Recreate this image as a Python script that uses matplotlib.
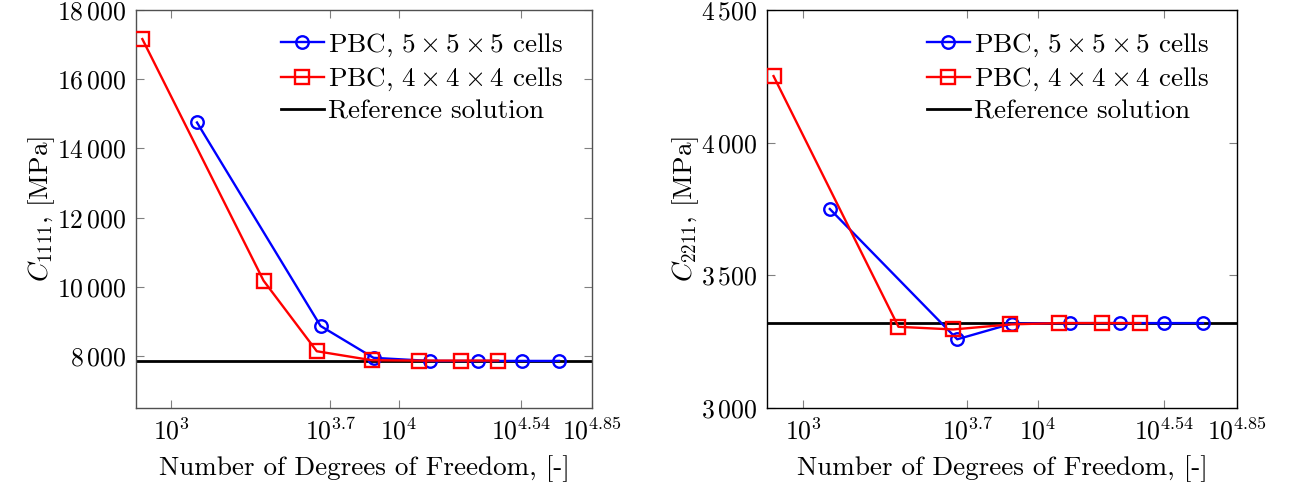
import matplotlib
matplotlib.use("Agg")
import matplotlib.pyplot as plt
import numpy as np

plt.rcParams['font.family'] = 'serif'
plt.rcParams['font.serif'] = ['cmr10']
plt.rcParams['mathtext.fontset'] = 'cm'
plt.rcParams['axes.formatter.use_mathtext'] = True

# degrees of freedom for the two cell configurations
dof_5 = [1300, 4540, 7760, 13740, 22400, 34700, 50700]
dof_4 = [748, 2550, 4370, 7640, 12300, 18750, 27400]

# C_1111 [MPa]
c1111_5 = [14750, 8870, 7950, 7860, 7860, 7860, 7860]
c1111_4 = [17160, 10180, 8140, 7880, 7870, 7870, 7870]
c1111_ref = 7870

# C_2211 [MPa]
c2211_5 = [3750, 3259, 3318, 3320, 3320, 3320, 3320]
c2211_4 = [4251, 3306, 3296, 3315, 3320, 3320, 3320]
c2211_ref = 3320

xtick_exp = [3, 3.7, 4, 4.54, 4.85]
xtick_labels = [r'$10^{3}$', r'$10^{3.7}$', r'$10^{4}$', r'$10^{4.54}$', r'$10^{4.85}$']

fs_tick = 18.5
fs_lab = 19.5

fig = plt.figure(figsize=(12.95, 4.93), dpi=100)
ax1 = fig.add_axes([136 / 1295, 85 / 493, 456 / 1295, 398 / 493])
ax2 = fig.add_axes([767 / 1295, 85 / 493, 470 / 1295, 398 / 493])


def draw(ax, y5, y4, yref, ylim, yticks, ylabel, spine_col, leg_x):
    ax.plot(dof_5, y5, color='blue', lw=1.7, marker='o', ms=9, mfc='none',
            mew=1.7, label=r'PBC, $5\times5\times5$ cells', zorder=3)
    ax.plot(dof_4, y4, color='red', lw=1.7, marker='s', ms=9.5, mfc='none',
            mew=1.7, label=r'PBC, $4\times4\times4$ cells', zorder=3)
    ax.axhline(yref, color='black', lw=2.0, label='Reference solution', zorder=2)
    ax.set_xscale('log')
    ax.set_xlim(10 ** 2.846, 10 ** 4.85)
    ax.set_ylim(*ylim)
    ax.set_xticks([10 ** e for e in xtick_exp])
    ax.set_xticklabels(xtick_labels, fontsize=fs_tick)
    ax.xaxis.set_minor_locator(matplotlib.ticker.NullLocator())
    ax.set_yticks(yticks)
    ax.set_yticklabels([r'$%d\,%03d$' % (t // 1000, t % 1000) for t in yticks], fontsize=fs_tick)
    ax.tick_params(direction='in', length=6, width=0.8, color='#808080',
                   top=True, right=True, pad=7)
    for s in ax.spines.values():
        s.set_linewidth(1.0)
        s.set_color(spine_col)
    ax.set_xlabel('Number of Degrees of Freedom, [-]', fontsize=fs_lab, labelpad=8)
    ax.set_ylabel(ylabel, fontsize=fs_lab, labelpad=0)
    ax.legend(loc='upper right', bbox_to_anchor=(leg_x, 1.0), frameon=False,
              fontsize=fs_lab, handlelength=1.6, handletextpad=0.15,
              labelspacing=0.25, borderaxespad=0.4, borderpad=0.4)


draw(ax1, c1111_5, c1111_4, c1111_ref, (6500, 18000),
     [8000, 10000, 12000, 14000, 16000, 18000], r'$C_{1111}$, [MPa]', '#505050',
     1 - 7 / 456)
draw(ax2, c2211_5, c2211_4, c2211_ref, (3000, 4500),
     [3000, 3500, 4000, 4500], r'$C_{2211}$, [MPa]', 'black', 1 - 6 / 470)

fig.savefig('out.png', dpi=100)
